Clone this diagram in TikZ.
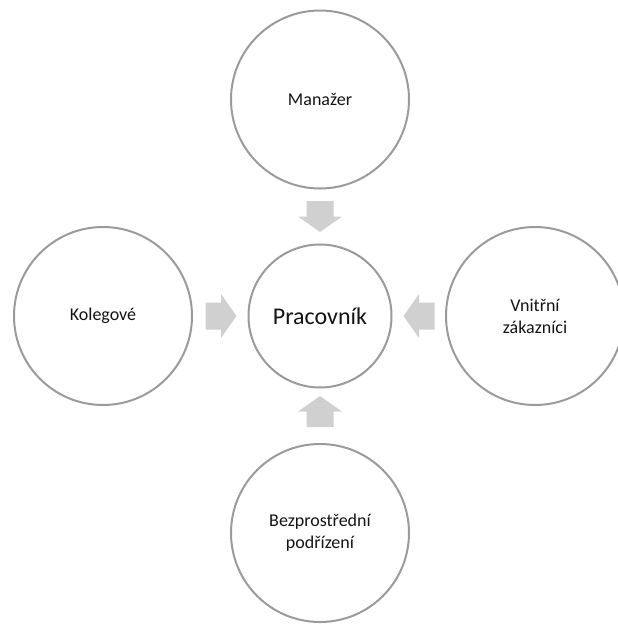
\documentclass[tikz,border=0pt]{standalone}
\usepackage{fontspec}
\setmainfont{Carlito}
\definecolor{circcol}{RGB}{155,155,155}
\definecolor{arrcol}{RGB}{208,208,208}
\definecolor{txtcol}{RGB}{20,20,20}
\begin{document}
\begin{tikzpicture}[x=1pt,y=-1pt,
  outer/.style={circle,draw=circcol,line width=2pt,fill=white,minimum size=178pt,inner sep=0pt,
    align=center,font=\fontsize{18}{22}\selectfont,text=txtcol},
  inner/.style={circle,draw=circcol,line width=2pt,fill=white,minimum size=143pt,inner sep=0pt,
    align=center,font=\fontsize{24}{28}\selectfont,text=txtcol},
  blockarr/.style={fill=arrcol,draw=none}]
\useasboundingbox (0,0) rectangle (618,624);
\node[inner] (ctr) at (320,316) {Pracovník};
\node[outer] (top) at (320,99.5) {Manažer};
\node[outer] (left) at (103,316) {Kolegové};
\node[outer] (right) at (535,316) {Vnitřní\\zákazníci};
\node[outer] (bot) at (320,533) {Bezprostřední\\podřízení};
\coordinate (a1) at (320,216.5);
\coordinate (a2) at (221,316);
\coordinate (a3) at (419,316);
\coordinate (a4) at (320,411.5);
\foreach \c/\r in {a1/-90,a2/0,a3/180,a4/90}{
  \fill[blockarr,shift={(\c)},rotate=\r]
    (-15.5,-13.5) -- (0,-13.5) -- (0,-22) -- (15.5,0) -- (0,22) -- (0,13.5) -- (-15.5,13.5) -- cycle;
}
\end{tikzpicture}
\end{document}
